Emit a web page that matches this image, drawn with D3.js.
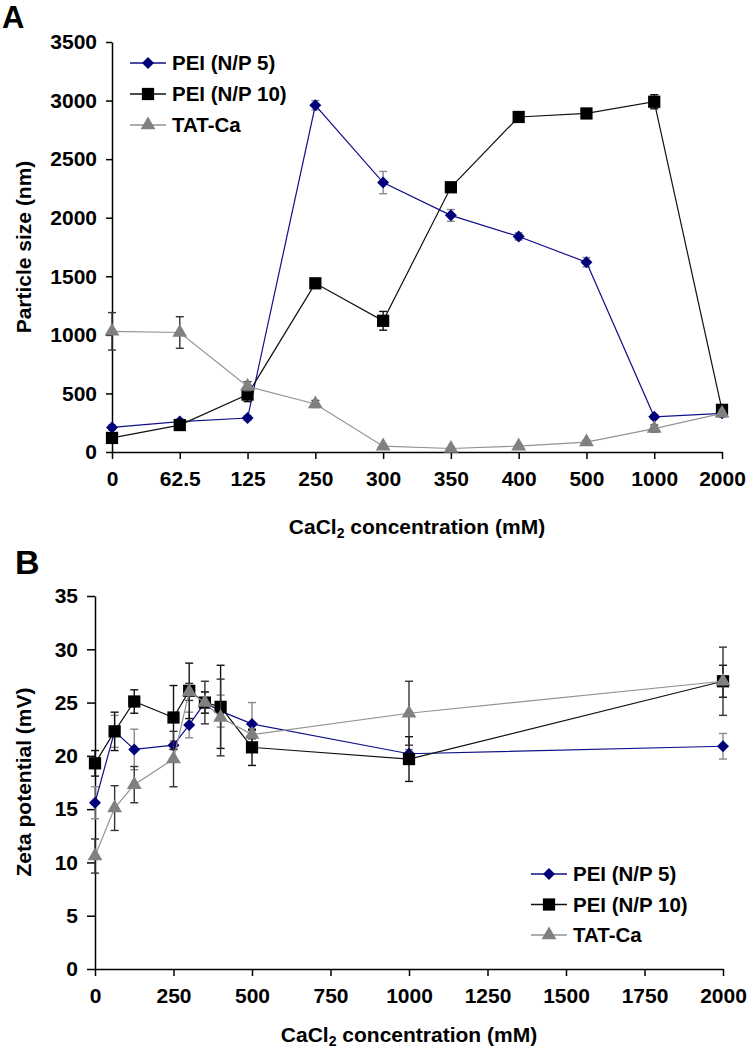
<!DOCTYPE html>
<html>
<head>
<meta charset="UTF-8">
<title>Particle size and zeta potential</title>
<script src="https://cdn.jsdelivr.net/npm/d3@7"></script>
<style>
    body { margin: 0; background: #fff; }
    svg text { font-family: "Liberation Sans", Arial, sans-serif; font-weight: bold; fill: #000; }
</style>
</head>
<body>
<script>

// CaCl2 concentrations (mM)
var conc = [0, 62.5, 125, 250, 300, 350, 400, 500, 1000, 2000];
var concLabels = ["0", "62.5", "125", "250", "300", "350", "400", "500", "1000", "2000"];
var seriesNames = ["PEI (N/P 5)", "PEI (N/P 10)", "TAT-Ca"];

// A: particle size (nm), mean and error
var sizePei5 = [210, 260, 290, 2960, 2300, 2020, 1840, 1620, 300, 330];
var sizePei5Err = [20, 20, 20, 40, 95, 50, 30, 40, 20, 20];
var sizePei10 = [120, 230, 490, 1440, 1120, 2260, 2860, 2890, 2990, 360];
var sizePei10Err = [20, 30, 60, 30, 80, 30, 20, 30, 60, 30];
var sizeTat = [1030, 1020, 560, 410, 50, 30, 50, 85, 200, 330];
var sizeTatErr = [160, 135, 40, 30, 15, 10, 10, 15, 30, 30];
var sizeTicks = [0, 500, 1000, 1500, 2000, 2500, 3000, 3500];

// B: zeta potential (mV), mean and error
var zetaPei5 = [15.6, 22.3, 20.6, 21.0, 22.9, 25.0, 24.2, 23.0, 20.2, 20.9];
var zetaPei5Err = [1.5, 1.5, 1.9, 0.4, 1.2, 1.0, 1.5, 2.0, 0.4, 1.2];
var zetaPei10 = [19.3, 22.3, 25.1, 23.6, 26.1, 25.0, 24.6, 20.8, 19.7, 27.0];
var zetaPei10Err = [1.2, 1.8, 1.1, 3.0, 2.6, 1.0, 3.9, 1.7, 2.1, 1.5];
var zetaTat = [10.6, 15.1, 17.3, 19.7, 26.0, 25.0, 23.6, 22.0, 24.0, 27.0];
var zetaTatErr = [1.6, 2.1, 1.7, 2.6, 0.8, 2.0, 3.6, 0.4, 3.0, 3.2];
var zetaTicks = [0, 5, 10, 15, 20, 25, 30, 35];
var concTicks = [0, 250, 500, 750, 1000, 1250, 1500, 1750, 2000];

// look of each series: line, marker, error bar
var styles = [
    { line: "#10108a", fill: "#00007a", err: "#8a8a8a", shape: "diamond" },
    { line: "#111", fill: "#000", err: "#111", shape: "square" },
    { line: "#939393", fill: "#808080", err: "#333", shape: "triangle" }
];

var svg = d3.select("body").append("svg")
            .attr("width", 749)
            .attr("height", 1050);

function marker(g, shape, x, y, fill) {
    var sym;
    if (shape == "diamond") sym = d3.symbol(d3.symbolSquare, 72);
    else if (shape == "square") sym = d3.symbol(d3.symbolSquare, 150);
    else sym = d3.symbol(d3.symbolTriangle, 95);
    g.append("path")
     .attr("d", sym())
     .attr("transform", "translate(" + x + "," + y + ")" + (shape == "diamond" ? " rotate(45)" : ""))
     .attr("fill", fill);
}

//Draws one series: error bars, connecting line, markers.
function drawSeries(g, xs, ys, errs, xScale, yScale, st) {
    var pts = xs.map(function (x, i) { return [xScale(x), yScale(ys[i])]; });

    var eb = g.append("g").attr("stroke", st.err).attr("stroke-width", 1.4).attr("fill", "none");
    pts.forEach(function (p, i) {
        var top = yScale(ys[i] + errs[i]), bot = yScale(ys[i] - errs[i]);
        eb.append("line").attr("x1", p[0]).attr("x2", p[0]).attr("y1", top).attr("y2", bot);
        eb.append("line").attr("x1", p[0] - 4).attr("x2", p[0] + 4).attr("y1", top).attr("y2", top);
        eb.append("line").attr("x1", p[0] - 4).attr("x2", p[0] + 4).attr("y1", bot).attr("y2", bot);
    });

    g.append("path")
     .attr("d", d3.line()(pts))
     .attr("fill", "none")
     .attr("stroke", st.line)
     .attr("stroke-width", 1.2);

    pts.forEach(function (p) { marker(g, st.shape, p[0], p[1], st.fill); });
}

function drawLegend(x, y, gap) {
    var lg = svg.append("g");
    seriesNames.forEach(function (name, i) {
        var yy = y + i * gap;
        lg.append("line").attr("x1", x).attr("x2", x + 36).attr("y1", yy).attr("y2", yy)
          .attr("stroke", styles[i].line).attr("stroke-width", 1.4);
        marker(lg, styles[i].shape, x + 18, yy, styles[i].fill);
        lg.append("text").attr("x", x + 42).attr("y", yy + 7).attr("font-size", 20.5).text(name);
    });
}

function styleAxis(g) {
    g.selectAll("path, line").attr("stroke", "#000").attr("stroke-width", 1.5);
    g.selectAll("text").attr("font-size", 21).attr("font-family", null).attr("fill", "#000");
}

function xTitle(x, y) {
    var t = svg.append("text").attr("x", x).attr("y", y).attr("text-anchor", "middle").attr("font-size", 21);
    t.append("tspan").text("CaCl");
    t.append("tspan").attr("font-size", 14).attr("dy", 4).text("2");
    t.append("tspan").attr("dy", -4).text(" concentration (mM)");
}

function yTitle(x, y, str) {
    svg.append("text")
       .attr("transform", "translate(" + x + "," + y + ") rotate(-90)")
       .attr("text-anchor", "middle")
       .attr("font-size", 21)
       .text(str);
}

var fmt = d3.format("d");

// ---------- Panel A ----------
var xA = d3.scalePoint().domain(concLabels).range([112, 722]);
var yA = d3.scaleLinear().domain([0, 3500]).range([452, 42]);

svg.append("text").attr("x", 2).attr("y", 28).attr("font-size", 31).text("A");

svg.append("g").attr("transform", "translate(112,0)")
   .call(d3.axisLeft(yA).tickValues(sizeTicks).tickFormat(fmt).tickSize(6).tickSizeOuter(0).tickPadding(9))
   .call(styleAxis);
svg.append("g").attr("transform", "translate(0,452)")
   .call(d3.axisBottom(xA).tickSize(7).tickSizeOuter(0).tickPadding(12))
   .call(styleAxis);

var gA = svg.append("g");
drawSeries(gA, concLabels, sizePei5, sizePei5Err, xA, yA, styles[0]);
drawSeries(gA, concLabels, sizePei10, sizePei10Err, xA, yA, styles[1]);
drawSeries(gA, concLabels, sizeTat, sizeTatErr, xA, yA, styles[2]);

drawLegend(130, 63, 31);
yTitle(31, 247, "Particle size (nm)");
xTitle(417, 534);

// ---------- Panel B ----------
var xB = d3.scaleLinear().domain([0, 2000]).range([95, 723]);
var yB = d3.scaleLinear().domain([0, 35]).range([969, 596]);

svg.append("text").attr("x", 15).attr("y", 574).attr("font-size", 34).text("B");

svg.append("g").attr("transform", "translate(95,0)")
   .call(d3.axisLeft(yB).tickValues(zetaTicks).tickFormat(fmt).tickSize(8).tickSizeOuter(0).tickPadding(9))
   .call(styleAxis);
svg.append("g").attr("transform", "translate(0,969)")
   .call(d3.axisBottom(xB).tickValues(concTicks).tickFormat(fmt).tickSize(7).tickSizeOuter(0).tickPadding(12))
   .call(styleAxis);

var gB = svg.append("g");
drawSeries(gB, conc, zetaPei5, zetaPei5Err, xB, yB, styles[0]);
drawSeries(gB, conc, zetaPei10, zetaPei10Err, xB, yB, styles[1]);
drawSeries(gB, conc, zetaTat, zetaTatErr, xB, yB, styles[2]);

drawLegend(531, 874, 30.5);
yTitle(31, 782, "Zeta potential (mV)");
xTitle(409, 1042);

</script>
</body>
</html>
